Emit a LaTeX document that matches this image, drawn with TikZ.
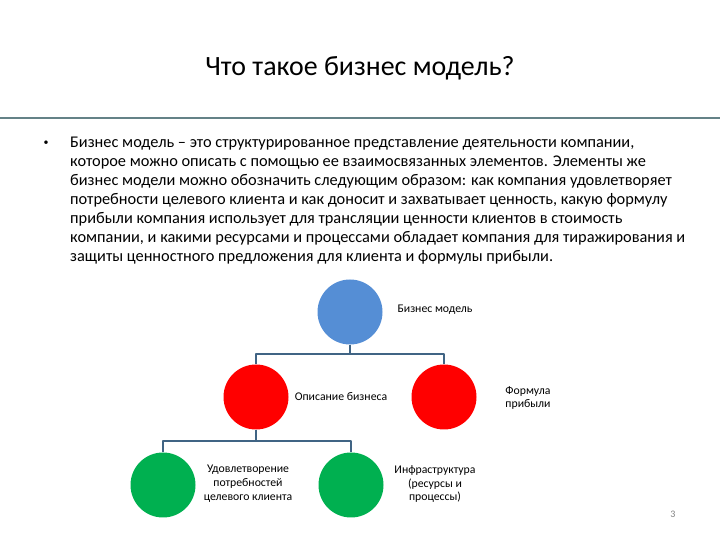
\documentclass[tikz,border=0pt]{standalone}
\usepackage{fontspec}
\setmainfont{Carlito}
\definecolor{bmblue}{RGB}{85,142,213}
\definecolor{odred}{RGB}{255,0,0}
\definecolor{ukgreen}{RGB}{0,176,80}
\definecolor{connblue}{RGB}{64,100,132}
\definecolor{rulegrey}{RGB}{100,130,135}
\tikzset{
  circ/.style={circle,draw=none,inner sep=0pt,minimum size=65bp},
  conn/.style={connblue,line width=2.5bp},
  lbl/.style={font=\fontsize{11.8}{14}\selectfont,align=center,inner sep=0pt},
}
\begin{document}
\begin{tikzpicture}[>=latex,line join=bevel,]
%%
\useasboundingbox (0bp,0bp) rectangle (720bp,540bp);
\node (title) at (360bp,472bp) [font=\fontsize{28}{32}\selectfont] {Что такое бизнес модель?};
\draw [rulegrey,line width=2bp] (0bp,422bp) -- (720bp,422bp);
\node (bullet) at (46bp,397bp) [font=\fontsize{10}{12}\selectfont,inner sep=0pt] {•};
\node (txt) at (70bp,403bp) [anchor=north west,inner sep=0pt,align=left,font=\fontsize{16.4}{19}\selectfont] {Бизнес модель – это структурированное представление деятельности компании,\\
которое можно описать с помощью ее взаимосвязанных элементов. Элементы же\\
бизнес модели можно обозначить следующим образом: как компания удовлетворяет\\
потребности целевого клиента и как доносит и захватывает ценность, какую формулу\\
прибыли компания использует для трансляции ценности клиентов в стоимость\\
компании, и какими ресурсами и процессами обладает компания для тиражирования и\\
защиты ценностного предложения для клиента и формулы прибыли.};
%
\node (bm) at (350bp,228bp) [circ,fill=bmblue] {};
\node (bm_label) at (435bp,230bp) [lbl] {Бизнес модель};
\node (od) at (256bp,143bp) [circ,fill=odred] {};
\node (od_label) at (341bp,143bp) [lbl] {Описание бизнеса};
\node (fp) at (444bp,143bp) [circ,fill=odred] {};
\node (fp_label) at (528bp,142bp) [lbl] {Формула\\прибыли};
\node (uk) at (163bp,55bp) [circ,fill=ukgreen] {};
\node (uk_label) at (248bp,56bp) [lbl] {Удовлетворение\\потребностей\\целевого клиента};
\node (ip) at (351bp,55bp) [circ,fill=ukgreen] {};
\node (ip_label) at (435bp,56bp) [lbl] {Инфраструктура\\(ресурсы и\\процессы)};
\draw [conn] (bm.south) -- ++(0,-9.5bp) -| (od.north);
\draw [conn] (bm.south) -- ++(0,-9.5bp) -| (fp.north);
\draw [conn] (od.south) -- ++(0,-11.5bp) -| (uk.north);
\draw [conn] (od.south) -- ++(0,-11.5bp) -| (ip.north);
\node (page) at (673bp,26bp) [gray,font=\fontsize{10}{12}\selectfont] {3};
%
\end{tikzpicture}
\end{document}
